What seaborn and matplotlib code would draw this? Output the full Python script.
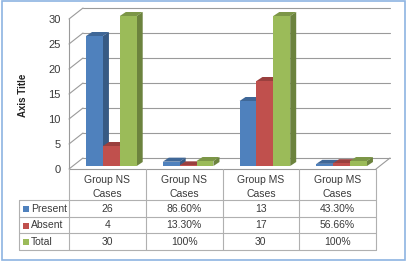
import numpy as np
import pandas as pd
import matplotlib
matplotlib.use("Agg")
import matplotlib.pyplot as plt
import seaborn as sns
import matplotlib.colors as mcolors
from matplotlib.transforms import offset_copy, IdentityTransform, ScaledTranslation
from matplotlib.patches import Polygon, Rectangle
from matplotlib.lines import Line2D

# ---- data ----
categories = ["Group NS\nCases", "Group NS\nCases", "Group MS\nCases", "Group MS\nCases"]
series = ["Present", "Absent", "Total"]
present = [26, 0.866, 13, 0.433]
absent = [4, 0.133, 17, 0.5666]
total = [30, 1.0, 30, 1.0]
present_labels = ["26", "86.60%", "13", "43.30%"]
absent_labels = ["4", "13.30%", "17", "56.66%"]
total_labels = ["30", "100%", "30", "100%"]
yticks = [0, 5, 10, 15, 20, 25, 30]
colors = ["#4F81BD", "#C0504D", "#9BBB59"]

W, H = 411, 263
sns.set_theme(style="white")
plt.rcParams['font.family'] = ['Liberation Sans', 'DejaVu Sans']

fig = plt.figure(figsize=(W / 100, H / 100), dpi=100)


def fx(x):
    return x / W


def fy(y):
    return 1 - y / H


ax_l, ax_r, ax_t, ax_b = 73, 380, 16, 166
ax = fig.add_axes([fx(ax_l), fy(ax_b), (ax_r - ax_l) / W, (ax_b - ax_t) / H])

rows = []
for i in range(len(categories)):
    for s, vals in zip(series, [present, absent, total]):
        rows.append({"pos": i, "series": s, "value": vals[i]})
df = pd.DataFrame(rows)

sns.barplot(data=df, x="pos", y="value", hue="series", hue_order=series,
            palette=colors, width=0.66, saturation=1, ax=ax, legend=False,
            edgecolor="none", linewidth=0, errorbar=None)
ax.set_xlim(-0.5, len(categories) - 0.5)
ax.set_ylim(0, 30)
for sp in ax.spines.values():
    sp.set_visible(False)
ax.set_facecolor("none")
ax.set_xticks([])
ax.set_xlabel("")
ax.set_ylabel("")
ax.set_yticks(yticks)
ax.tick_params(axis="y", length=0, pad=8, labelsize=8, labelcolor="#3A3A3A")
shift = ScaledTranslation(-1 / 100, -3 / 100, fig.dpi_scale_trans)
for lab in ax.get_yticklabels():
    lab.set_transform(lab.get_transform() + shift)

grid_c = "#9A9A9A"
back = offset_copy(ax.get_yaxis_transform(), fig=fig, x=10, y=8, units="dots")
front = offset_copy(ax.get_yaxis_transform(), fig=fig, x=-4, y=-3, units="dots")


def dline(p, q, **kw):
    ax.add_line(Line2D([p[0], q[0]], [p[1], q[1]], transform=IdentityTransform(),
                       clip_on=False, color=grid_c, lw=0.8, **kw))


# back wall gridlines + left wall slants
for v in yticks:
    dline(back.transform((0, v)), back.transform((1, v)), zorder=0.5)
    dline(front.transform((0, v)), back.transform((0, v)), zorder=0.5)
# left wall front edge
dline(front.transform((0, 0)), front.transform((0, 30)), zorder=0.5)
# floor
dline(front.transform((0, 0)), front.transform((1, 0)), zorder=0.5)
dline(front.transform((1, 0)), back.transform((1, 0)), zorder=0.5)

# ---- 3D bar faces ----
bars = sorted([p for p in ax.patches if isinstance(p, Rectangle)], key=lambda p: p.get_x())
dx3, dy3 = 6, 4
for k, p in enumerate(bars):
    x0, w, h = p.get_x(), p.get_width(), p.get_height()
    X0, Y0 = ax.transData.transform((x0, 0))
    X1, Y1 = ax.transData.transform((x0 + w, h))
    rgb = np.array(mcolors.to_rgb(p.get_facecolor()))
    z = 3 + k * 0.01
    p.set_zorder(z + 0.005)
    top = Polygon([(X0, Y1), (X1, Y1), (X1 + dx3, Y1 + dy3), (X0 + dx3, Y1 + dy3)],
                  closed=True, transform=IdentityTransform(), clip_on=False,
                  facecolor=rgb * 0.8, edgecolor="none", zorder=z)
    side = Polygon([(X1, Y0), (X1, Y1), (X1 + dx3, Y1 + dy3), (X1 + dx3, Y0 + dy3)],
                   closed=True, transform=IdentityTransform(), clip_on=False,
                   facecolor=rgb * 0.7, edgecolor="none", zorder=z)
    ax.add_patch(top)
    ax.add_patch(side)

# ---- data table ----
tab_c = "#B0B0B0"
txt_c = "#3A3A3A"
fl = front.transform((0, 0))
fr = front.transform((1, 0))
x_left, x_right = fl[0], fr[0]
col_edges = np.linspace(x_left, x_right, len(categories) + 1)
y_head_top = H - fl[1]
y_rows = [200, 217, 233, 250]
leg_x = 19


def tline(x1, y1, x2, y2):
    fig.add_artist(Line2D([fx(x1), fx(x2)], [fy(y1), fy(y2)], transform=fig.transFigure,
                          color=tab_c, lw=0.8))


for xe in col_edges:
    tline(xe, y_head_top, xe, y_rows[-1])
tline(leg_x, y_rows[0], leg_x, y_rows[-1])
for yr in y_rows:
    tline(leg_x, yr, x_right, yr)

centers = (col_edges[:-1] + col_edges[1:]) / 2
head_mid = (y_head_top + y_rows[0]) / 2 + 2.5
for cx, cat in zip(centers, categories):
    fig.text(fx(cx), fy(head_mid), cat, ha="center", va="center", fontsize=7.5,
             color=txt_c, linespacing=1.5)

for r, (name, labels, col) in enumerate(zip(series, [present_labels, absent_labels, total_labels], colors)):
    ymid = (y_rows[r] + y_rows[r + 1]) / 2 + 0.5
    for cx, lab in zip(centers, labels):
        fig.text(fx(cx), fy(ymid), lab, ha="center", va="center", fontsize=7.5, color=txt_c)
    fig.add_artist(Rectangle((fx(23), fy(ymid + 3)), 6 / W, 6 / H, transform=fig.transFigure,
                             facecolor=col, edgecolor="none"))
    fig.text(fx(31), fy(ymid), name, ha="left", va="center", fontsize=7.5, color=txt_c)

# axis title
fig.text(fx(23), fy(95), "Axis Title", rotation=90, ha="center", va="center",
         fontsize=7, fontweight="bold", color="#222222")

# outer border
fig.add_artist(Rectangle((fx(2), fy(260)), 403 / W, 259 / H, transform=fig.transFigure,
                         fill=False, edgecolor="#8DB4E2", lw=1.2))

fig.savefig("out.png", dpi=100)
